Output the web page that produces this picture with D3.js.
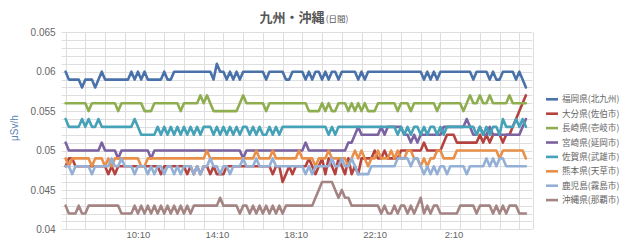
<!DOCTYPE html>
<html>
<head>
<meta charset="utf-8">
<script src="https://cdn.jsdelivr.net/npm/d3@7"></script>
<style>
body{margin:0;background:#fff;}
text{font-family:"Noto Sans CJK JP","Liberation Sans",sans-serif;}
</style>
</head>
<body>
<div id="chart"></div>
<script>
const width=640,height=241;
const plot={left:65.6,right:532.5,top:32.3,bottom:229.3};

// time axis: one reading every 10 minutes
const startTime=new Date(2000,0,1,6,30);
const endTime=new Date(2000,0,2,6,10);
const stepMinutes=10;

const yTicks=[0.04,0.045,0.05,0.055,0.06,0.065];
const xTickLabels=["10:10","14:10","18:10","22:10","2:10"];

const seriesNames=["福岡県(北九州)","大分県(佐伯市)","長崎県(壱岐市)","宮崎県(延岡市)","佐賀県(武雄市)","熊本県(天草市)","鹿児島(霧島市)","沖縄県(那覇市)"];

// readings in nSv/h (= 0.001 μSv/h)
const fukuoka=[60,59,59,59,59,58,59,59,59,
58,59,60,59,59,59,59,59,59,59,
59,60,59,60,59,60,59,59,59,59,
59,60,59,59,60,60,60,60,60,60,
60,60,60,60,60,60,59,61,60,60,
59,60,59,60,59,60,60,60,60,
60,60,60,59,60,60,60,60,60,59,
59,60,60,60,60,59,60,59,60,60,
59,60,59,60,60,59,60,60,60,60,
60,59,60,59,60,60,60,60,60,60,
60,60,60,60,60,60,60,60,60,
60,60,59,60,59,60,59,60,60,60,
60,60,60,60,60,60,60,59,60,60,
60,60,59,60,59,59,60,60,60,60,
59,60,59,58];
const oita=[48,49,49,48,48,48,48,48,48,
48,48,48,48,47,48,47,48,48,48,
48,48,48,48,48,48,48,48,48,48,
47,48,48,48,48,48,48,48,47,48,
47,48,47,48,48,47,48,47,47,47,
48,48,48,48,48,48,48,48,48,
48,48,48,48,48,47,48,48,46,47,
48,47,48,48,48,48,49,48,47,48,
49,47,49,48,47,49,48,47,49,47,
48,47,49,49,49,49,50,49,49,50,
49,49,49,49,50,50,50,50,50,
50,50,51,50,50,50,50,50,51,52,
52,52,51,51,51,51,51,51,51,52,
51,52,51,52,52,52,51,52,52,53,
54,55,56,57];
const nagasaki=[56,56,56,56,56,56,56,55,56,
56,56,56,56,56,56,56,55,56,56,
56,56,56,56,56,55,55,55,56,56,
56,56,56,56,56,56,55,56,56,56,
56,56,57,56,57,56,55,55,55,55,
55,55,55,55,56,57,56,56,56,
56,56,56,55,56,56,56,56,56,56,
56,56,56,56,56,56,55,55,55,55,
56,55,56,55,55,56,56,56,55,56,
55,56,55,56,55,55,55,56,56,56,
56,56,56,55,56,56,56,55,56,
56,56,56,56,56,56,55,56,56,56,
56,56,56,56,55,56,57,56,56,57,
56,56,57,56,56,56,56,56,57,56,
56,56,56,56];
const miyazaki=[51,50,50,50,50,50,50,50,50,
50,50,51,50,50,50,50,49,50,50,
50,50,50,50,50,50,50,49,50,50,
50,50,50,50,50,50,50,50,50,50,
50,50,50,50,50,50,50,50,50,50,
50,50,50,50,50,49,50,50,50,
50,50,50,50,50,50,50,50,50,50,
50,50,50,50,50,51,50,50,50,50,
50,50,50,50,50,50,50,50,51,51,
52,53,52,52,52,52,52,52,53,52,
53,53,53,53,53,52,52,51,52,
51,52,52,52,52,52,52,52,53,53,
53,53,53,53,53,54,53,52,52,53,
52,52,53,52,52,52,52,52,52,52,
52,52,53,54];
const saga=[54,53,53,53,53,54,53,54,53,
53,54,53,53,53,53,53,53,53,53,
53,53,54,53,52,52,52,52,52,53,
52,53,52,53,52,53,52,53,52,53,
52,53,52,53,53,53,52,53,52,53,
52,53,52,53,52,53,53,52,53,
52,53,52,52,53,52,53,52,53,53,
53,53,53,53,53,53,53,53,53,53,
53,53,52,53,52,53,53,53,53,53,
53,53,53,53,53,53,53,53,53,53,
53,53,53,52,53,52,53,52,53,
53,52,53,52,53,53,52,53,52,53,
53,53,53,53,53,53,53,53,52,53,
52,53,52,53,53,52,54,53,53,53,
54,53,54,53];
const kumamoto=[49,48,49,49,49,49,49,49,48,
49,49,49,48,49,48,49,49,49,49,
49,49,49,49,48,48,49,49,49,49,
49,49,49,49,49,49,49,49,49,49,
49,49,49,49,50,49,49,49,49,49,
49,49,49,49,49,49,49,49,49,
50,49,49,49,49,50,49,49,49,49,
49,49,49,50,49,49,49,49,48,49,
49,49,50,49,49,49,49,49,48,49,
50,49,50,49,48,49,49,50,49,49,
49,50,49,50,49,49,50,50,49,
49,48,49,48,49,49,50,50,49,49,
49,49,50,50,50,50,50,50,50,50,
50,50,50,50,50,49,50,50,50,50,
50,50,50,49];
const kagoshima=[48,48,47,48,48,48,48,48,47,
48,48,48,48,48,49,48,48,49,48,
48,48,47,48,48,48,47,48,47,48,
48,47,48,48,47,48,47,48,48,48,
47,48,47,48,48,49,48,48,47,48,
48,47,48,48,48,49,48,48,48,
49,48,48,48,48,49,48,48,48,48,
48,48,48,48,48,47,48,47,48,48,
48,48,48,49,48,48,49,48,48,49,
48,47,47,47,47,48,48,48,48,48,
48,48,48,49,49,49,49,48,49,
49,48,47,48,47,48,47,48,48,47,
48,48,48,48,48,47,48,48,48,48,
48,49,48,49,48,49,49,48,48,48,
48,48,48,48];
const okinawa=[43,42,42,42,43,42,42,43,43,
43,43,43,43,43,43,43,43,42,42,
42,42,43,42,43,42,43,42,43,42,
43,42,43,42,43,42,43,42,43,42,
43,43,43,43,43,43,43,43,44,43,
43,43,43,43,42,43,43,42,43,
42,43,42,43,42,43,42,43,42,43,
43,43,43,43,43,43,43,43,44,45,
46,46,46,46,45,44,45,44,44,43,
43,43,43,43,43,43,43,43,42,43,
42,42,43,42,43,43,42,43,42,
43,44,42,43,42,43,43,42,42,42,
42,42,42,43,43,43,43,43,42,43,
43,43,43,42,43,42,43,42,43,43,
43,42,42,42];

const seriesValues=[fukuoka,oita,nagasaki,miyazaki,saga,kumamoto,kagoshima,okinawa];
const colors=["#4a72aa","#b4433f","#8fae4f","#7b62a0","#45a2b8","#e8904a","#94b0d6","#a58484"];

const x=d3.scaleTime().domain([startTime,endTime]).range([plot.left,plot.right]);
const y=d3.scaleLinear().domain([0.04,0.065]).range([plot.bottom,plot.top]);

const svg=d3.select("#chart")
    .append("svg")
    .attr("width",width)
    .attr("height",height);

svg.append("rect")
    .attr("width",width)
    .attr("height",height)
    .attr("fill","white");

// horizontal grid every 0.001
svg.selectAll(".hgrid")
    .data(d3.range(40,66).map(v=>v/1000))
    .enter()
    .append("line")
    .attr("class","hgrid")
    .attr("x1",plot.left-4)
    .attr("x2",plot.right)
    .attr("y1",d=>Math.round(y(d))+0.5)
    .attr("y2",d=>Math.round(y(d))+0.5)
    .attr("stroke","#dedede")
    .attr("stroke-width",1);

// vertical grid every hour
const hours=d3.timeMinute.range(startTime,endTime,60);
svg.selectAll(".vgrid")
    .data(hours)
    .enter()
    .append("line")
    .attr("class","vgrid")
    .attr("x1",d=>Math.round(x(d))+0.5)
    .attr("x2",d=>Math.round(x(d))+0.5)
    .attr("y1",plot.top)
    .attr("y2",plot.bottom)
    .attr("stroke","#dedede")
    .attr("stroke-width",1);

svg.append("line")
    .attr("x1",Math.round(plot.right)+0.5)
    .attr("x2",Math.round(plot.right)+0.5)
    .attr("y1",plot.top)
    .attr("y2",plot.bottom)
    .attr("stroke","#dedede");

// axes
const yAxis=svg.append("g")
    .attr("transform",`translate(${plot.left},0)`)
    .call(d3.axisLeft(y).tickValues(yTicks).tickSize(0).tickPadding(10).tickFormat(d=>String(+d.toFixed(3))));
yAxis.select(".domain").remove();
yAxis.selectAll("text")
    .attr("fill","#666")
    .style("font-family","'Liberation Sans',sans-serif")
    .style("font-size","10px");

function parseLabel(s){
    const [h,m]=s.split(":").map(Number);
    const d=new Date(2000,0,1,h,m);
    return d<startTime?d3.timeDay.offset(d,1):d;
}

const xAxis=svg.append("g")
    .attr("transform",`translate(0,${plot.bottom})`)
    .call(d3.axisBottom(x).tickValues(xTickLabels.map(parseLabel)).tickSize(0).tickPadding(2).tickFormat(d3.timeFormat("%-H:%M")));
xAxis.select(".domain").remove();
xAxis.selectAll("text")
    .attr("fill","#666")
    .style("font-family","'Liberation Sans',sans-serif")
    .style("font-size","9.5px");

// lines
const line=d3.line()
    .x((d,i)=>x(d3.timeMinute.offset(startTime,i*stepMinutes)))
    .y(d=>y(d/1000));

svg.selectAll(".series")
    .data(seriesValues)
    .enter()
    .append("path")
    .attr("class","series")
    .attr("d",d=>line(d))
    .attr("fill","none")
    .attr("stroke",(d,i)=>colors[i])
    .attr("stroke-width",2.6)
    .attr("stroke-linejoin","round")
    .attr("stroke-linecap","round");

// title
const title=svg.append("text")
    .attr("x",304)
    .attr("y",22)
    .attr("text-anchor","middle")
    .attr("fill","#555");
title.append("tspan")
    .style("font-size","13px")
    .style("font-weight","bold")
    .text("九州・沖縄");
title.append("tspan")
    .attr("dx",1)
    .style("font-size","8.5px")
    .text("(日間)");

// y axis title
svg.append("text")
    .attr("transform","translate(18,128) rotate(-90)")
    .attr("text-anchor","middle")
    .attr("fill","#5a85b5")
    .style("font-size","10px")
    .style("font-family","'Liberation Sans',sans-serif")
    .text("μSv/h");

// legend
const legend=svg.selectAll(".legend")
    .data(seriesNames)
    .enter()
    .append("g")
    .attr("class","legend")
    .attr("transform",(d,i)=>`translate(546,${99.3+i*14.4})`);
legend.append("line")
    .attr("x1",0)
    .attr("x2",12)
    .attr("stroke",(d,i)=>colors[i])
    .attr("stroke-width",2.6);
legend.append("text")
    .attr("x",16)
    .attr("dy","0.35em")
    .attr("fill","#666")
    .style("font-size","8.6px")
    .text(d=>d);
</script>
</body>
</html>
